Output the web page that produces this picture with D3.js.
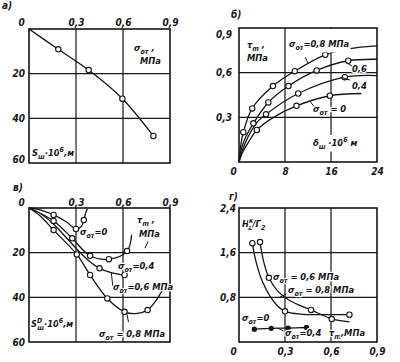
<!DOCTYPE html>
<html><head><meta charset="utf-8">
<script src="https://cdn.jsdelivr.net/npm/d3@7"></script>
<style>
body{margin:0;background:#fff}
svg text{font-family:"DejaVu Sans Condensed","DejaVu Sans",sans-serif;font-style:italic;font-weight:bold;font-size:10px;fill:#161616}
svg text.lbl{font-size:9.3px;paint-order:stroke;stroke:#fff;stroke-width:2.5px;stroke-linejoin:round}
</style></head><body>
<script>
// ---------- DATA ----------
// panel а : S_ш vs σ_от
const aLine  = [[0,0],[0.187,9.1],[0.381,18.4],[0.596,31.2],[0.794,47.9]];
const aMarks = [[0.187,9.1],[0.381,18.4],[0.596,31.2],[0.794,47.9]];
// panel б : τ_m vs δ_ш for σ_от = 0.8, 0.6, 0.4, 0
const b08Line = [[0,0],[0.3,0.11],[0.75,0.2],[2.3,0.36],[5.9,0.51],[9.7,0.61],[15,0.72],[20,0.765],[24,0.78]];
const b08Mark = [[0.75,0.2],[2.3,0.36],[5.9,0.51],[9.7,0.61],[15,0.72]];
const b06Line = [[0,0],[0.5,0.1],[1.2,0.17],[2.5,0.26],[5.1,0.40],[8.6,0.51],[13.5,0.615],[19,0.68],[24,0.69]];
const b06Mark = [[2.5,0.26],[5.1,0.40],[8.6,0.51],[13.5,0.615],[19,0.68]];
const b04Line = [[0,0],[0.6,0.08],[1.6,0.17],[3,0.26],[4.7,0.32],[10.3,0.46],[18.4,0.57],[24,0.58]];
const b04Mark = [[4.7,0.32],[10.3,0.46],[18.4,0.57]];
const b00Line = [[0,0],[0.7,0.07],[1.6,0.13],[3.1,0.215],[6,0.3],[10,0.377],[15.8,0.445],[21.3,0.46]];
const b00Mark = [[3.1,0.215],[10,0.377],[15.8,0.445]];
// panel в : S^D_ш vs τ_m for σ_от = 0, 0.4, 0.6, 0.8
const c00Line = [[0,0],[0.07,0.8],[0.157,3.1],[0.24,6.3],[0.30,9.4],[0.335,8.2],[0.35,5.4],[0.362,2.2],[0.372,0.3]];
const c00Mark = [[0.157,3.1],[0.30,9.4],[0.35,5.4]];
const c04Line = [[0,0],[0.157,5.8],[0.276,13.6],[0.39,21.4],[0.51,22.9],[0.626,19.3],[0.655,12]];
const c04Mark = [[0.157,5.8],[0.276,13.6],[0.39,21.4],[0.51,22.9],[0.626,19.3]];
const c06Line = [[0,0],[0.08,2.8],[0.157,7.3],[0.3,18],[0.38,23.5],[0.45,27],[0.53,29],[0.61,30]];
const c06Mark = [[0.45,27],[0.61,30]];
const c08Line = [[0,0],[0.07,3.5],[0.157,9.9],[0.305,20.8],[0.39,30],[0.50,40.5],[0.61,46.5],[0.68,47.3],[0.757,45.7],[0.81,41.5],[0.85,37]];
const c08Mark = [[0.157,9.9],[0.305,20.8],[0.39,30],[0.50,40.5],[0.61,46.5],[0.757,45.7]];
// panel г : H/Γ vs τ_m
const dLLine = [[0.087,1.77],[0.11,1.45],[0.15,1.1],[0.2,0.83],[0.25,0.65],[0.30,0.55],[0.4,0.5],[0.55,0.49],[0.72,0.49]];
const dLMark = [[0.087,1.77],[0.30,0.55],[0.72,0.49]];
const dRLine = [[0.137,1.79],[0.16,1.45],[0.195,1.15],[0.25,0.92],[0.32,0.76],[0.40,0.65],[0.47,0.575],[0.6,0.42],[0.72,0.36]];
const dRMark = [[0.137,1.79],[0.195,1.15],[0.47,0.575],[0.605,0.41]];
const d00Line = [[0.1,0.23],[0.21,0.245],[0.32,0.25],[0.44,0.26]];
// ticks / grids
const tickFrac = [0,0.3,0.6,0.9];
const tickS = [20,40,60];
const gridS = [20,40];
const gridFrac = [0.3,0.6];
const tickBX = [0,8,16,24];
const gridBX = [8,16];
const tickBY = [0.3,0.6,0.9];
const gridBY = [0.3,0.6];
const tickDY = [0.8,1.6,2.4];
const gridDY = [0.8,1.6];
// leaders [x1,y1,x2,y2] in data units
const bLeaders = [[11.5,0.705,12.0,0.665],[18.4,0.675,19.8,0.64],[17.7,0.57,19.3,0.55],[12.4,0.405,13.1,0.37]];
const cLeaders = [[0.525,29,0.535,35],[0.74,18,0.76,15],[0.625,47.5,0.635,51]];
const dLeaders = [[0.265,0.80,0.31,0.86],[0.255,0.245,0.29,0.2]];

// ---------- DRAW ----------
const svg = d3.select('body').append('svg').attr('width',400).attr('height',362);
const fmt = d => d===0 ? '0' : String(d).replace('.', ',');
const ink = '#161616';

function scales(xd,xr,yd,yr){return {x:d3.scaleLinear().domain(xd).range(xr), y:d3.scaleLinear().domain(yd).range(yr)};}
const PA = scales([0,0.9],[29,170],[0,60],[29,163]);
const PB = scales([0,24],[239,377],[0,0.9],[162,28]);
const PC = scales([0,0.9],[29,170],[0,60],[208,342]);
const PD = scales([0,0.9],[239,377],[0,2.4],[342,208]);

function frame(P,gx,gy){
  const g = svg.append('g');
  const [x0,x1]=P.x.range(), yr=P.y.range(), y0=Math.min(...yr), y1=Math.max(...yr);
  g.selectAll('.gx').data(gx).join('line').attr('x1',d=>P.x(d)).attr('x2',d=>P.x(d)).attr('y1',y0).attr('y2',y1)
    .attr('stroke',ink).attr('stroke-width',1.2);
  g.selectAll('.gy').data(gy).join('line').attr('y1',d=>P.y(d)).attr('y2',d=>P.y(d)).attr('x1',x0).attr('x2',x1)
    .attr('stroke',ink).attr('stroke-width',1.2);
  g.append('rect').attr('x',x0).attr('y',y0).attr('width',x1-x0).attr('height',y1-y0)
    .attr('fill','none').attr('stroke',ink).attr('stroke-width',1.6);
  return g;
}
function axis(gen, tx, ty, pad, shift0){
  const g = svg.append('g').attr('transform',`translate(${tx},${ty})`)
    .call(gen.tickSize(0).tickPadding(pad).tickFormat(fmt));
  g.select('.domain').remove();
  if(shift0) g.selectAll('.tick text').filter(d=>d===0).attr('dx',shift0);
  return g;
}
const lineGen = P => d3.line().x(d=>P.x(d[0])).y(d=>P.y(d[1])).curve(d3.curveCatmullRom.alpha(0.5));
function curve(P,data){svg.append('path').datum(data).attr('d',lineGen(P)).attr('fill','none').attr('stroke',ink).attr('stroke-width',1.3);}
function marks(P,data,filled){
  svg.append('g').selectAll('circle').data(data).join('circle').attr('cx',d=>P.x(d[0])).attr('cy',d=>P.y(d[1]))
    .attr('r',filled?2.1:2.7).attr('fill',filled?ink:'#fff').attr('stroke',ink).attr('stroke-width',1.1);
}
function leaders(P,data){
  svg.append('g').selectAll('line').data(data).join('line').attr('x1',d=>P.x(d[0])).attr('y1',d=>P.y(d[1]))
    .attr('x2',d=>P.x(d[2])).attr('y2',d=>P.y(d[3])).attr('stroke',ink).attr('stroke-width',1);
}
function rich(x,y,parts,o={}){
  const t = svg.append('text').attr('x',x).attr('y',y).attr('class','lbl');
  let cur=0;
  for(const p of parts){
    const [s,type,dx]=p;
    const target = type==='sub'?2.5:type==='sup'?-4:0;
    const ts=t.append('tspan').attr('dy',target-cur).text(s);
    if(dx) ts.attr('dx',dx);
    if(type) ts.style('font-size','7px');
    cur=target;
  }
  if(o.bg){
    const b=t.node().getBBox();
    const top = o.bgTop!==undefined ? o.bgTop : b.y-1;
    svg.insert('rect',()=>t.node()).attr('x',b.x-1).attr('y',top).attr('width',b.width+2).attr('height',b.y+b.height+1-top).attr('fill','#fff');
  }
  return t;
}

// Panel а
frame(PA,gridFrac,gridS);
axis(d3.axisTop(PA.x).tickValues(tickFrac),0,29,3,-8);
const ayA = axis(d3.axisLeft(PA.y).tickValues(tickS),29,0,4);
ayA.selectAll('.tick text').filter(d=>d===60).attr('dy','-0.1em');
curve(PA,aLine); marks(PA,aMarks);
rich(134,51,[["σ"],["от","sub"],[" ,"]]);
rich(140,64,[["МПа"]]);
rich(32,156,[["S"],["ш","sub"],["·10"],["6","sup"],[",м"]],{bg:true});
svg.append('text').attr('x',2).attr('y',9).text('а)');

// Panel б
frame(PB,gridBX,gridBY);
const ayB = axis(d3.axisLeft(PB.y).tickValues(tickBY),239,0,7);
ayB.selectAll('.tick text').filter(d=>d===0.9).attr('dy','0.9em');
axis(d3.axisBottom(PB.x).tickValues(tickBX),0,162,6,-6);
[b08Line,b06Line,b04Line,b00Line].forEach(d=>curve(PB,d));
[b08Mark,b06Mark,b04Mark,b00Mark].forEach(d=>marks(PB,d));
leaders(PB,bLeaders);
rich(247,48,[["τ"],["m","sub"],[" ,"]]);
rich(247,61,[["МПа"]]);
rich(289,47,[["σ"],["от","sub"],["=0,8 МПа"]],{bg:true,bgTop:29});
rich(352,72,[["0,6"]]);
rich(352,89,[["0,4"]]);
rich(313,112,[["σ"],["от","sub"],[" = 0"]]);
rich(313,146,[["δ"],["ш","sub"],[" ·10"],["6","sup"],[" м"]],{bg:true});
svg.append('text').attr('x',231).attr('y',18).text('б)');

// Panel в
frame(PC,gridFrac,gridS);
axis(d3.axisTop(PC.x).tickValues(tickFrac),0,208,2,-8);
axis(d3.axisLeft(PC.y).tickValues(tickS),29,0,4);
[c00Line,c04Line,c06Line,c08Line].forEach(d=>curve(PC,d));
[c00Mark,c04Mark,c06Mark,c08Mark].forEach(d=>marks(PC,d));
leaders(PC,cLeaders);
rich(137,223,[["τ"],["m","sub"],[" ,"]]);
rich(139,237,[["МПа"]]);
rich(80,235,[["σ"],["от","sub"],["=0"]]);
rich(118,269,[["σ"],["от","sub"],["=0,4"]]);
rich(113,290,[["σ"],["от","sub"],["=0,6 МПа"]]);
rich(99,337,[["σ"],["от","sub"],[" = 0,8 МПа"]]);
rich(31,327,[["S"],["D","sup"],["ш","sub",-5],["·10"],["6","sup"],[",м"]],{bg:true});
svg.append('text').attr('x',13).attr('y',191).text('в)');

// Panel г
frame(PD,gridFrac,gridDY);
axis(d3.axisLeft(PD.y).tickValues(tickDY),239,0,3);
axis(d3.axisBottom(PD.x).tickValues(tickFrac),0,342,6,-6);
curve(PD,dLLine); curve(PD,dRLine); curve(PD,d00Line);
marks(PD,dLMark); marks(PD,dRMark); marks(PD,d00Line,true);
leaders(PD,dLeaders);
rich(242,227,[["H"],["к","sup"],["а","sub",-5],["/Γ"],["2","sub"]]);
rich(273,280,[["σ"],["от","sub"],[" = 0,6 МПа"]]);
rich(288,293,[["σ"],["от","sub"],[" = 0,8 МПа"]]);
rich(242,321,[["σ"],["от","sub"],["=0"]]);
rich(285,336,[["σ"],["от","sub"],["=0,4"]]);
rich(329,336,[["τ"],["m","sub"],[",МПа"]]);
svg.append('text').attr('x',229).attr('y',200).text('г)');
</script>
</body></html>
